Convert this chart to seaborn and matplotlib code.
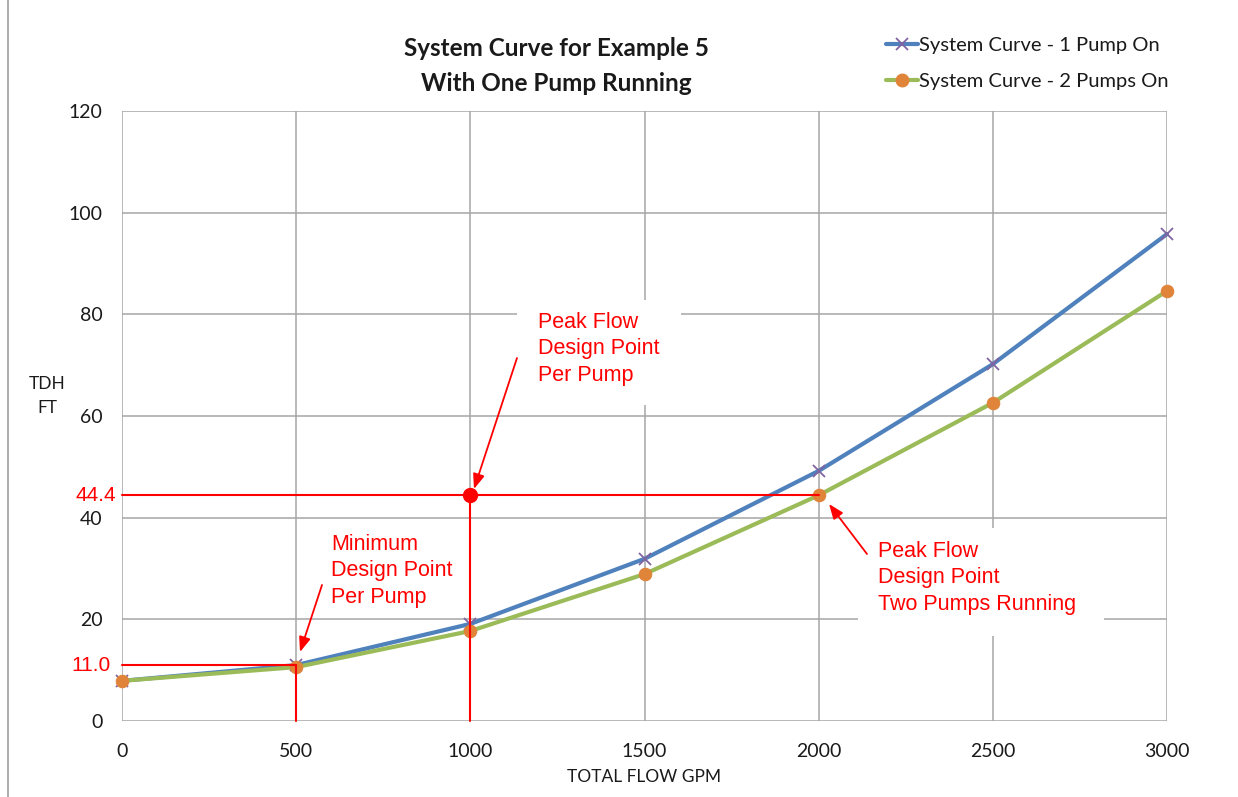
import matplotlib
matplotlib.use("Agg")
import matplotlib.pyplot as plt
import seaborn as sns
import pandas as pd
from matplotlib.lines import Line2D
from matplotlib.patches import Rectangle

# ---- data ----
flow_gpm = [0, 500, 1000, 1500, 2000, 2500, 3000]
tdh_one_pump = [7.9, 11.0, 19.1, 31.9, 49.2, 70.2, 95.8]
tdh_two_pumps = [7.9, 10.6, 17.7, 28.9, 44.4, 62.6, 84.6]
series_names = ["System Curve - 1 Pump On", "System Curve - 2 Pumps On"]
x_ticks = [0, 500, 1000, 1500, 2000, 2500, 3000]
y_ticks = [0, 20, 40, 60, 80, 100, 120]
peak_flow_per_pump = 1000
peak_tdh = 44.4
min_flow_per_pump = 500
min_tdh = 11.0
two_pump_flow = 2000

sns.set_style("white")
plt.rcParams["font.family"] = ["Lato", "DejaVu Sans"]

df = pd.DataFrame({
    "flow": flow_gpm * 2,
    "tdh": tdh_one_pump + tdh_two_pumps,
    "series": [series_names[0]] * len(flow_gpm) + [series_names[1]] * len(flow_gpm),
})

fig = plt.figure(figsize=(12.38, 7.97), dpi=100)
ax = fig.add_axes([122 / 1238, 1 - 721 / 797, (1167 - 122) / 1238, (721 - 111) / 797])

grid_c = "#A6A6A6"
blue = "#4F81BD"
green = "#9BBB59"
purple = "#8064A2"
orange = "#E0843A"
red = "#FF0000"

d1 = df[df.series == series_names[0]]
d2 = df[df.series == series_names[1]]
sns.lineplot(data=d1, x="flow", y="tdh", ax=ax, color=blue, lw=3, marker="x",
             markersize=8, markeredgecolor=purple, markeredgewidth=1.3, zorder=3,
             clip_on=False)
sns.lineplot(data=d2, x="flow", y="tdh", ax=ax, color=green, lw=3, marker="o",
             markersize=9, markerfacecolor=orange, markeredgecolor=orange, zorder=4,
             clip_on=False)

ax.set_xlim(0, 3000)
ax.set_ylim(0, 120)
ax.set_xticks(x_ticks)
ax.set_yticks(y_ticks)
ax.set_xticklabels([str(v) for v in x_ticks])
ax.set_yticklabels([str(v) for v in y_ticks])
ax.grid(True, color=grid_c, lw=1.1, zorder=0)
ax.set_axisbelow(True)
for s in ax.spines.values():
    s.set_visible(False)
ax.tick_params(axis="both", length=7, width=1.1, color=grid_c, labelsize=14,
               labelcolor="#1a1a1a")
ax.tick_params(axis="y", pad=7)
ax.tick_params(axis="x", pad=9)
ax.set_xlabel("TOTAL FLOW GPM", fontsize=12.5, color="#1a1a1a", labelpad=6)
ax.set_ylabel("")
fig.text(47 / 1238, 1 - 396 / 797, "TDH\nFT", ha="center", va="center",
         fontsize=12.5, color="#1a1a1a", linespacing=1.6)

# reference lines
ax.plot([0, two_pump_flow], [peak_tdh, peak_tdh], color=red, lw=1.5, zorder=5, clip_on=False)
ax.plot([peak_flow_per_pump, peak_flow_per_pump], [0, peak_tdh], color=red, lw=1.5, zorder=5, clip_on=False)
ax.plot([0, min_flow_per_pump], [min_tdh, min_tdh], color=red, lw=1.5, zorder=5, clip_on=False)
ax.plot([min_flow_per_pump, min_flow_per_pump], [0, min_tdh], color=red, lw=1.5, zorder=5, clip_on=False)
ax.plot([peak_flow_per_pump], [peak_tdh], "o", color=red, markersize=10, zorder=6)

afont = ["Liberation Sans", "DejaVu Sans"]
ax.text(-0.006, peak_tdh, f"{peak_tdh:.1f}", transform=ax.get_yaxis_transform(),
        ha="right", va="center", color=red, fontsize=15, family=afont)
ax.text(-0.011, min_tdh, f"{min_tdh:.1f}", transform=ax.get_yaxis_transform(),
        ha="right", va="center", color=red, fontsize=15, family=afont)

# annotation boxes (white) covering grid
def px_to_data(px, py):
    return ax.transData.inverted().transform(ax.transAxes.transform(
        ((px - 122) / (1167 - 122), (721 - py) / (721 - 111))))

def box(x0, y0, x1, y1):
    a = px_to_data(x0, y1)
    b = px_to_data(x1, y0)
    ax.add_patch(Rectangle(a, b[0] - a[0], b[1] - a[1], facecolor="white",
                           edgecolor="none", zorder=1))

box(517, 300, 681, 405)
box(858, 528, 1104, 636)

def label(px, py, s):
    p = px_to_data(px, py)
    ax.text(p[0], p[1], s, ha="left", va="top", color=red, fontsize=15.5,
            family=afont, linespacing=1.33, zorder=7)

label(538, 312, "Peak Flow\nDesign Point\nPer Pump")
label(331, 534, "Minimum\nDesign Point\nPer Pump")
label(878, 541, "Peak Flow\nDesign Point\nTwo Pumps Running")

def arrow(tx, ty, hx, hy):
    ax.annotate("", xy=px_to_data(hx, hy), xytext=px_to_data(tx, ty),
                arrowprops=dict(arrowstyle="-|>,head_length=0.9,head_width=0.35",
                                color=red, lw=1.3, shrinkA=0, shrinkB=0), zorder=7)

arrow(517, 358, 474, 489)
arrow(322, 585, 300, 652)
arrow(867, 554, 829, 504)

# title
fig.text(556 / 1238, 1 - 66 / 797, "System Curve for Example 5\nWith One Pump Running",
         ha="center", va="center", fontsize=17.5, fontweight="bold", color="#1a1a1a",
         linespacing=1.6)

# legend
handles = [
    Line2D([], [], color=blue, lw=3, marker="x", markersize=8,
           markeredgecolor=purple, markeredgewidth=1.3),
    Line2D([], [], color=green, lw=3, marker="o", markersize=9,
           markerfacecolor=orange, markeredgecolor=orange),
]
fig.legend(handles, series_names, loc="upper left",
           bbox_to_anchor=(868 / 1238, 1 - 19 / 797), frameon=False,
           fontsize=14.5, handlelength=1.6, handletextpad=0.05, labelspacing=0.95,
           labelcolor="#1a1a1a")

# outer chart border
fig.add_artist(Rectangle((8 / 1238, -0.01), 1.1, 1.1, transform=fig.transFigure,
                         facecolor="none", edgecolor="#A0A0A0", lw=1.2))

fig.savefig("out.png", dpi=100)
